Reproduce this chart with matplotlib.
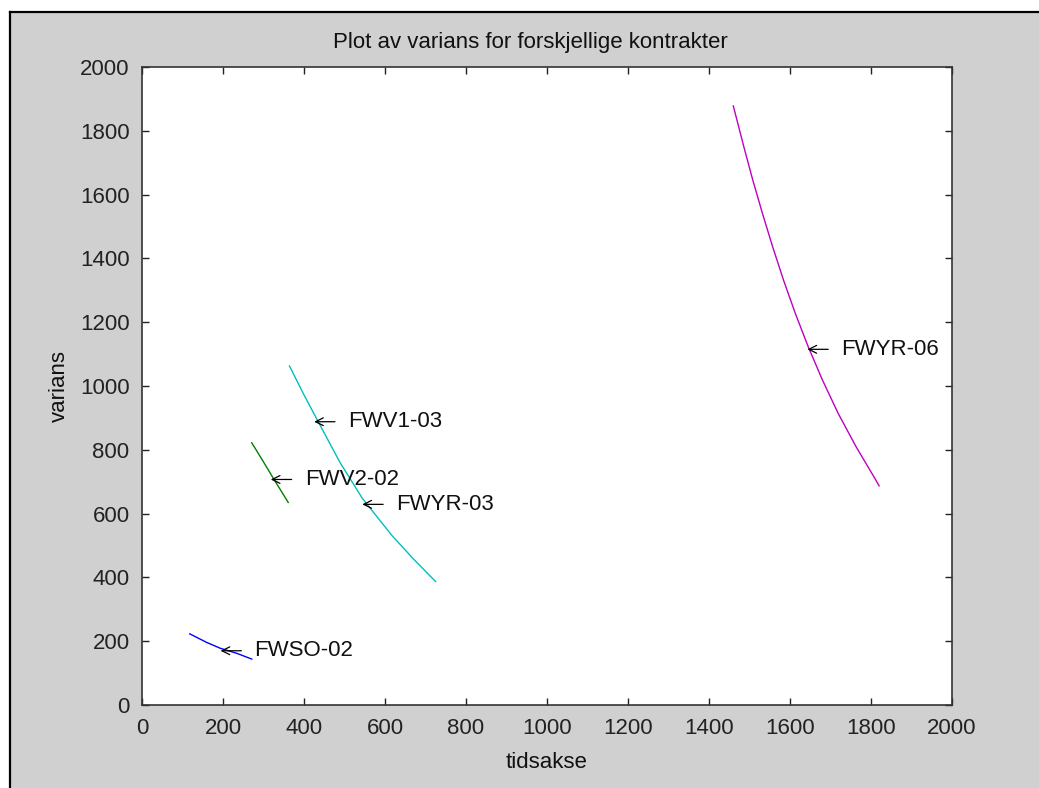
import matplotlib
matplotlib.use("Agg")
import matplotlib.pyplot as plt
from matplotlib.lines import Line2D
from matplotlib.patches import Rectangle

# series
fwso_02_x = [118, 160, 193, 234, 271]
fwso_02_y = [223, 196, 178, 162, 144]

fwv2_02_x = [271, 300, 326, 361]
fwv2_02_y = [822, 762, 707, 635]

fwv1_03_x = [364, 398, 433, 489, 544, 616, 670, 725]
fwv1_03_y = [1063, 977, 893, 760, 648, 533, 458, 387]

fwyr_06_x = [1460, 1486, 1508, 1532, 1557, 1584, 1613, 1645, 1680, 1719, 1763, 1812, 1820]
fwyr_06_y = [1878, 1750, 1646, 1541, 1437, 1332, 1228, 1123, 1019, 914, 810, 705, 687]

# labels with their arrow tips
labels = ["FWSO-02", "FWV2-02", "FWV1-03", "FWYR-03", "FWYR-06"]
label_x = [194, 318, 425, 544, 1643]
label_y = [170, 707, 888, 629, 1115]

ticks = [0, 200, 400, 600, 800, 1000, 1200, 1400, 1600, 1800, 2000]

plt.rcParams["font.family"] = ["Liberation Sans", "DejaVu Sans"]
fs = 16

W, H = 1039, 788
fig = plt.figure(figsize=(W / 100, H / 100), dpi=100, facecolor="white")
gray = "#d0d0d0"

# window background with black border at top/left
fig.patches.append(Rectangle((9 / W, 0), 1, 1 - 11 / H, transform=fig.transFigure,
                             facecolor=gray, edgecolor="none", zorder=-10))
fig.lines.append(Line2D([9.5 / W, 9.5 / W], [0, 1 - 11.5 / H], transform=fig.transFigure,
                        color="black", lw=1.6))
fig.lines.append(Line2D([9.5 / W, 1], [1 - 11.5 / H, 1 - 11.5 / H], transform=fig.transFigure,
                        color="black", lw=1.6))

ax = fig.add_axes([142 / W, 1 - 705 / H, 810 / W, 638 / H])
ax.set_facecolor("white")

ax.plot(fwso_02_x, fwso_02_y, color=(0, 0, 1), lw=1)
ax.plot(fwv2_02_x, fwv2_02_y, color=(0, 0.5, 0), lw=1)
ax.plot(fwv1_03_x, fwv1_03_y, color=(0, 0.75, 0.75), lw=1)
ax.plot(fwyr_06_x, fwyr_06_y, color=(0.75, 0, 0.75), lw=1)

for txt, x, y in zip(labels, label_x, label_y):
    ax.annotate(txt, xy=(x, y), xytext=(24.5, 0), textcoords="offset points",
                ha="left", va="center", fontsize=fs, color="#111111",
                arrowprops=dict(arrowstyle="->", color="black", lw=0.9,
                                shrinkA=7.5, shrinkB=0, mutation_scale=14))

ax.set_xlim(0, 2000)
ax.set_ylim(0, 2000)
ax.set_xticks(ticks)
ax.set_yticks(ticks)
ax.tick_params(direction="in", length=5, width=1, top=True, right=True,
               labelsize=fs, colors="#222222")
ax.tick_params(axis="x", pad=9)
ax.tick_params(axis="y", pad=9)
for s in ax.spines.values():
    s.set_linewidth(1.2)
    s.set_color("#333333")

ax.set_title("Plot av varians for forskjellige kontrakter", fontsize=fs, x=0.479, pad=14,
             color="#111111")
ax.set_xlabel("tidsakse", fontsize=fs, labelpad=10, color="#111111")
ax.set_ylabel("varians", fontsize=fs, labelpad=7, color="#111111")

fig.savefig("out.png", dpi=100, facecolor=fig.get_facecolor())
